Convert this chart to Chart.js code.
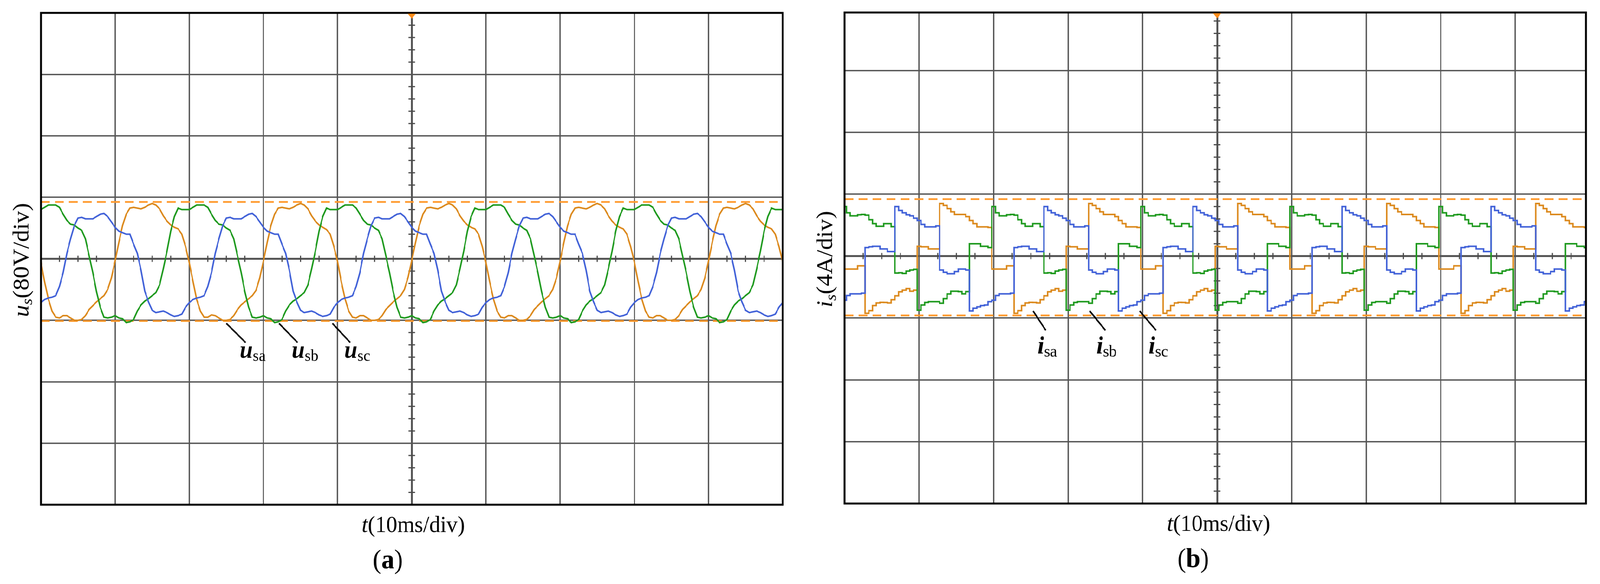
<!DOCTYPE html>
<html>
<head>
<meta charset="utf-8">
<script src="https://cdn.jsdelivr.net/npm/chart.js@4.4.1/dist/chart.umd.min.js"></script>
<style>
    html, body { margin: 0; padding: 0; background: #fff; overflow: hidden; }
    #wrap { position: relative; width: 4342px; height: 1495px; overflow: hidden; transform-origin: 0 0; }
    canvas { position: absolute; top: 0; }
    #voltCanvas { left: 0; }
    #currCanvas { left: 2200px; }
</style>
</head>
<body>
<div id="wrap">
    <canvas id="voltCanvas" width="2200" height="1495"></canvas>
    <canvas id="currCanvas" width="2142" height="1495"></canvas>
</div>
<script>
// the figure is laid out on 4342 px; squeeze it into a narrower window
const wrap = document.getElementById('wrap');
const fitX = Math.min(1, window.innerWidth / 4342);
wrap.style.transform = 'scale(' + fitX + ', 1)';

// -------------------------- data ----------------------------
// time axis, one sample every 0.5 ms over 10 div x 10 ms
const timeMs = Array.from({ length: 201 }, (_, k) => k * 0.5);

// stator voltages (V), 80 V/div
const usa = [
    -4, -30, -52, -68, -76, -77, -74, -74, -77, -80, -80, -79, -74, -66, -61, -56, -52, -48, -40, -25,
    -3, 21, 43, 58, 66, 67, 66, 65, 67, 70, 72, 70, 65, 56, 49, 44, 41, 39, 32, 16,
    -5, -29, -53, -68, -76, -76, -73, -74, -77, -80, -80, -79, -74, -66, -60, -56, -52, -48, -41, -25,
    -3, 21, 43, 58, 66, 67, 66, 65, 67, 70, 72, 70, 65, 56, 49, 44, 41, 38, 32, 16,
    -4, -30, -52, -68, -76, -77, -74, -74, -77, -80, -80, -79, -74, -66, -61, -56, -52, -48, -40, -24,
    -2, 21, 43, 58, 66, 67, 66, 65, 67, 70, 72, 70, 65, 56, 49, 44, 41, 39, 32, 16,
    -5, -30, -52, -68, -76, -77, -74, -74, -77, -80, -80, -79, -74, -66, -61, -56, -52, -48, -40, -25,
    -3, 21, 43, 58, 66, 67, 66, 65, 67, 70, 72, 70, 65, 56, 49, 44, 41, 39, 32, 16,
    -4, -29, -52, -68, -76, -77, -74, -74, -77, -80, -80, -79, -74, -66, -61, -56, -52, -48, -40, -25,
    -3, 21, 43, 58, 66, 67, 66, 65, 67, 70, 72, 70, 65, 56, 49, 44, 41, 39, 32, 16,
    -4
];
const usb = [
    64, 67, 70, 70, 70, 67, 58, 50, 45, 44, 40, 37, 26, 4, -18, -43, -63, -76, -77, -76,
    -74, -77, -78, -83, -82, -79, -68, -60, -55, -52, -48, -44, -34, -13, 10, 36, 55, 66, 64, 64,
    64, 67, 70, 70, 70, 67, 58, 50, 45, 44, 40, 37, 26, 4, -18, -43, -63, -76, -77, -76,
    -74, -77, -78, -83, -82, -79, -68, -60, -55, -52, -48, -44, -34, -13, 10, 36, 55, 66, 64, 64,
    64, 67, 70, 70, 70, 66, 58, 50, 45, 44, 40, 37, 26, 4, -18, -43, -63, -76, -77, -76,
    -74, -77, -78, -83, -82, -79, -68, -60, -55, -52, -48, -44, -34, -13, 10, 36, 55, 66, 64, 64,
    64, 67, 70, 70, 70, 67, 58, 50, 45, 44, 40, 37, 26, 4, -18, -43, -63, -76, -77, -76,
    -74, -77, -78, -83, -82, -79, -68, -60, -55, -52, -48, -44, -34, -13, 10, 36, 55, 66, 64, 64,
    64, 67, 70, 70, 70, 67, 58, 50, 45, 44, 40, 37, 26, 4, -18, -43, -63, -76, -77, -76,
    -74, -77, -78, -83, -82, -79, -68, -60, -55, -52, -48, -44, -34, -13, 10, 36, 55, 66, 64, 64,
    64
];
const usc = [
    -57, -53, -51, -50, -48, -36, -18, 7, 26, 43, 53, 54, 52, 52, 52, 55, 58, 59, 55, 48,
    41, 36, 34, 32, 32, 19, 7, -15, -42, -56, -67, -70, -69, -68, -70, -73, -75, -74, -72, -63,
    -57, -53, -51, -50, -48, -36, -18, 7, 26, 43, 53, 54, 52, 52, 52, 55, 58, 59, 55, 48,
    41, 36, 34, 32, 32, 19, 7, -15, -42, -56, -67, -70, -69, -68, -70, -73, -75, -74, -72, -63,
    -57, -53, -51, -50, -48, -36, -18, 7, 26, 43, 53, 54, 52, 52, 52, 55, 58, 59, 55, 48,
    41, 36, 34, 32, 32, 19, 7, -15, -42, -56, -67, -70, -69, -68, -70, -73, -75, -74, -72, -63,
    -57, -53, -51, -50, -48, -36, -18, 7, 26, 43, 53, 54, 52, 52, 52, 55, 58, 59, 55, 48,
    41, 36, 34, 32, 32, 19, 7, -15, -42, -56, -67, -70, -69, -68, -70, -73, -75, -74, -72, -63,
    -57, -53, -51, -50, -48, -36, -18, 7, 26, 43, 53, 54, 52, 52, 52, 55, 58, 59, 55, 48,
    41, 36, 34, 32, 32, 19, 7, -15, -42, -56, -67, -70, -69, -68, -70, -73, -75, -74, -72, -63,
    -57
];

// stator currents (A), 4 A/div
const isa = [
    -0.84, -0.84, -0.84, -0.84, -0.63, -0.63, -3.7, -3.53, -3.2, -3.03, -2.99, -3.0, -3.03, -2.82, -2.57, -2.31, -2.2, -2.1, -2.27, -2.2,
    0.63, 0.6, 0.6, 0.46, 0.46, 0.46, 3.4, 3.28, 3.07, 2.86, 2.69, 2.69, 2.69, 2.55, 2.3, 2.1, 1.89, 1.89, 1.89, 1.85,
    -0.84, -0.84, -0.84, -0.84, -0.63, -0.63, -3.7, -3.53, -3.2, -3.03, -2.99, -3.0, -3.03, -2.82, -2.57, -2.31, -2.2, -2.1, -2.27, -2.2,
    0.63, 0.6, 0.6, 0.46, 0.46, 0.46, 3.4, 3.28, 3.07, 2.86, 2.69, 2.69, 2.69, 2.55, 2.3, 2.1, 1.89, 1.89, 1.89, 1.85,
    -0.84, -0.84, -0.84, -0.84, -0.63, -0.63, -3.7, -3.53, -3.2, -3.03, -2.99, -3.0, -3.03, -2.82, -2.57, -2.31, -2.2, -2.1, -2.27, -2.2,
    0.63, 0.6, 0.6, 0.46, 0.46, 0.46, 3.4, 3.28, 3.07, 2.86, 2.69, 2.69, 2.69, 2.55, 2.3, 2.1, 1.89, 1.89, 1.89, 1.85,
    -0.84, -0.84, -0.84, -0.84, -0.63, -0.63, -3.7, -3.53, -3.2, -3.03, -2.99, -3.0, -3.03, -2.82, -2.57, -2.31, -2.2, -2.1, -2.27, -2.2,
    0.63, 0.6, 0.6, 0.46, 0.46, 0.46, 3.4, 3.28, 3.07, 2.86, 2.69, 2.69, 2.69, 2.55, 2.3, 2.1, 1.89, 1.89, 1.89, 1.85,
    -0.84, -0.84, -0.84, -0.84, -0.63, -0.63, -3.7, -3.53, -3.2, -3.03, -2.99, -3.0, -3.03, -2.82, -2.57, -2.31, -2.2, -2.1, -2.27, -2.2,
    0.63, 0.6, 0.6, 0.46, 0.46, 0.46, 3.4, 3.28, 3.07, 2.86, 2.69, 2.69, 2.69, 2.55, 2.3, 2.1, 1.89, 1.89, 1.89, 1.85,
    -0.84
];
const isb = [
    3.2, 2.8, 2.6, 2.6, 2.67, 2.69, 2.65, 2.35, 2.1, 1.93, 1.93, 2.1, 2.1, 1.9, -1.1, -1.08, -1.12, -0.97, -0.9, -0.86,
    -3.5, -3.16, -3.0, -2.95, -2.95, -2.95, -3.05, -2.75, -2.45, -2.27, -2.27, -2.3, -2.44, -2.3, 0.8, 0.8, 0.8, 0.63, 0.63, 0.55,
    3.2, 2.8, 2.6, 2.6, 2.67, 2.69, 2.65, 2.35, 2.1, 1.93, 1.93, 2.1, 2.1, 1.9, -1.1, -1.08, -1.12, -0.97, -0.9, -0.86,
    -3.5, -3.16, -3.0, -2.95, -2.95, -2.95, -3.05, -2.75, -2.45, -2.27, -2.27, -2.3, -2.44, -2.3, 0.8, 0.8, 0.8, 0.63, 0.63, 0.55,
    3.2, 2.8, 2.6, 2.6, 2.67, 2.69, 2.65, 2.35, 2.1, 1.93, 1.93, 2.1, 2.1, 1.9, -1.1, -1.08, -1.12, -0.97, -0.9, -0.86,
    -3.5, -3.16, -3.0, -2.95, -2.95, -2.95, -3.05, -2.75, -2.45, -2.27, -2.27, -2.3, -2.44, -2.3, 0.8, 0.8, 0.8, 0.63, 0.63, 0.55,
    3.2, 2.8, 2.6, 2.6, 2.67, 2.69, 2.65, 2.35, 2.1, 1.93, 1.93, 2.1, 2.1, 1.9, -1.1, -1.08, -1.12, -0.97, -0.9, -0.86,
    -3.5, -3.16, -3.0, -2.95, -2.95, -2.95, -3.05, -2.75, -2.45, -2.27, -2.27, -2.3, -2.44, -2.3, 0.8, 0.8, 0.8, 0.63, 0.63, 0.55,
    3.2, 2.8, 2.6, 2.6, 2.67, 2.69, 2.65, 2.35, 2.1, 1.93, 1.93, 2.1, 2.1, 1.9, -1.1, -1.08, -1.12, -0.97, -0.9, -0.86,
    -3.5, -3.16, -3.0, -2.95, -2.95, -2.95, -3.05, -2.75, -2.45, -2.27, -2.27, -2.3, -2.44, -2.3, 0.8, 0.8, 0.8, 0.63, 0.63, 0.55,
    3.2
];
const isc = [
    -2.85, -2.55, -2.44, -2.44, -2.44, -2.4, 0.55, 0.6, 0.63, 0.63, 0.46, 0.46, 0.29, 0.29, 3.2, 2.95, 2.8, 2.67, 2.6, 2.45,
    2.3, 2.05, 1.89, 1.89, 1.89, 1.95, -0.9, -1.05, -1.14, -1.14, -1.0, -0.84, -0.84, -0.9, -3.55, -3.37, -3.28, -3.2, -3.16, -2.95,
    -2.85, -2.55, -2.44, -2.44, -2.44, -2.4, 0.55, 0.6, 0.63, 0.63, 0.46, 0.46, 0.29, 0.29, 3.2, 2.95, 2.8, 2.67, 2.6, 2.45,
    2.3, 2.05, 1.89, 1.89, 1.89, 1.95, -0.9, -1.05, -1.14, -1.14, -1.0, -0.84, -0.84, -0.9, -3.55, -3.37, -3.28, -3.2, -3.16, -2.95,
    -2.85, -2.55, -2.44, -2.44, -2.44, -2.4, 0.55, 0.6, 0.63, 0.63, 0.46, 0.46, 0.29, 0.29, 3.2, 2.95, 2.8, 2.67, 2.6, 2.45,
    2.3, 2.05, 1.89, 1.89, 1.89, 1.95, -0.9, -1.05, -1.14, -1.14, -1.0, -0.84, -0.84, -0.9, -3.55, -3.37, -3.28, -3.2, -3.16, -2.95,
    -2.85, -2.55, -2.44, -2.44, -2.44, -2.4, 0.55, 0.6, 0.63, 0.63, 0.46, 0.46, 0.29, 0.29, 3.2, 2.95, 2.8, 2.67, 2.6, 2.45,
    2.3, 2.05, 1.89, 1.89, 1.89, 1.95, -0.9, -1.05, -1.14, -1.14, -1.0, -0.84, -0.84, -0.9, -3.55, -3.37, -3.28, -3.2, -3.16, -2.95,
    -2.85, -2.55, -2.44, -2.44, -2.44, -2.4, 0.55, 0.6, 0.63, 0.63, 0.46, 0.46, 0.29, 0.29, 3.2, 2.95, 2.8, 2.67, 2.6, 2.45,
    2.3, 2.05, 1.89, 1.89, 1.89, 1.95, -0.9, -1.05, -1.14, -1.14, -1.0, -0.84, -0.84, -0.9, -3.55, -3.37, -3.28, -3.2, -3.16, -2.95,
    -2.85
];

// orange cursor levels of the scope
const uCursors = [74, -81];
const iCursors = [3.68, -3.84];

// -------------------------- style ----------------------------
const SERIF = '"Liberation Serif", "Times New Roman", serif';
const phaseColors = ['#dc8a1e', '#1f9a1f', '#4262d8'];
const cursorColor = '#ff9a2e';
const gridColor = '#555555';

function toPoints(values) {
    return values.map((v, k) => ({ x: timeMs[k], y: v }));
}

function drawRich(ctx, parts, x, y, align) {
    let w = 0;
    parts.forEach(p => { ctx.font = p.font; w += ctx.measureText(p.text).width; });
    let cx = align === 'center' ? x - w / 2 : x;
    parts.forEach(p => {
        ctx.font = p.font;
        ctx.fillText(p.text, cx, y + (p.dy || 0));
        cx += ctx.measureText(p.text).width;
    });
}

// -------------------------- scope decorations ----------------------------
const scopePlugin = {
    id: 'scope',
    beforeDatasetsDraw(chart, args, o) {
        const { ctx, scales: { x, y } } = chart;
        const xc = x.getPixelForValue(50);
        const yc = y.getPixelForValue(0);
        ctx.save();
        ctx.strokeStyle = '#4a4a4a';
        ctx.lineWidth = 3;
        ctx.beginPath();
        // small marks on the centre lines
        for (let k = 1; k * 2.5 < x.max; k++) {
            if (k % 4 === 0) continue;
            const px = x.getPixelForValue(k * 2.5);
            ctx.moveTo(px, yc - 8);
            ctx.lineTo(px, yc + 8);
        }
        const kMin = Math.ceil(y.min / o.minorY);
        const kMax = Math.floor(y.max / o.minorY);
        for (let k = kMin; k <= kMax; k++) {
            if (k % 5 === 0) continue;
            const py = y.getPixelForValue(k * o.minorY);
            ctx.moveTo(xc - 9, py);
            ctx.lineTo(xc + 9, py);
        }
        ctx.stroke();
        ctx.restore();
    },
    afterDraw(chart, args, o) {
        const { ctx, chartArea: a, scales: { x, y } } = chart;
        const xc = x.getPixelForValue(50);
        ctx.save();

        // frame
        ctx.strokeStyle = '#000';
        ctx.lineWidth = 5;
        ctx.strokeRect(a.left, a.top, a.right - a.left, a.bottom - a.top);

        // trigger marker
        ctx.fillStyle = '#ff8c1a';
        ctx.beginPath();
        ctx.moveTo(xc - 11, a.top + 2);
        ctx.lineTo(xc + 11, a.top + 2);
        ctx.lineTo(xc, a.top + 15);
        ctx.closePath();
        ctx.fill();

        // curve labels with leader lines
        ctx.fillStyle = '#000';
        ctx.strokeStyle = '#000';
        ctx.lineWidth = 4;
        ctx.textAlign = 'left';
        ctx.textBaseline = 'alphabetic';
        o.curveLabels.forEach(l => {
            ctx.beginPath();
            ctx.moveTo(x.getPixelForValue(l.from[0]), y.getPixelForValue(l.from[1]));
            ctx.lineTo(x.getPixelForValue(l.to[0]), y.getPixelForValue(l.to[1]));
            ctx.stroke();
            drawRich(ctx, [
                { text: o.symbol, font: 'italic bold 64px ' + SERIF },
                { text: l.sub, font: '42px ' + SERIF, dy: 8 }
            ], x.getPixelForValue(l.at[0]), y.getPixelForValue(l.at[1]), 'left');
        });

        // y label, rotated
        ctx.save();
        ctx.translate(a.left - 34, (a.top + a.bottom) / 2 + 3);
        ctx.rotate(-Math.PI / 2);
        drawRich(ctx, [
            { text: o.symbol, font: 'italic 62px ' + SERIF },
            { text: 's', font: 'italic 42px ' + SERIF, dy: 10 },
            { text: o.unitText, font: '62px ' + SERIF }
        ], 0, 0, 'center');
        ctx.restore();

        // x label and panel tag
        drawRich(ctx, [
            { text: 't', font: 'italic 60px ' + SERIF },
            { text: '(10ms/div)', font: '60px ' + SERIF }
        ], xc + 4, a.bottom + 70, 'center');
        drawRich(ctx, [
            { text: '(', font: '70px ' + SERIF },
            { text: o.tag, font: 'bold 70px ' + SERIF },
            { text: ')', font: '70px ' + SERIF }
        ], xc - 65, a.bottom + 163, 'center');

        ctx.restore();
    }
};

function scopeChart(canvasId, cfg) {
    const waves = cfg.series.map((values, i) => ({
        data: toPoints(values),
        borderColor: phaseColors[i],
        borderWidth: 4,
        pointRadius: 0,
        tension: 0,
        stepped: cfg.stepped,
        borderJoinStyle: 'miter',
        order: 3 - i
    }));
    const cursors = cfg.cursors.map(level => ({
        data: [{ x: 0, y: level }, { x: 100, y: level }],
        borderColor: cursorColor,
        borderWidth: 4.5,
        borderDash: [24, 14],
        pointRadius: 0,
        order: 10
    }));

    return new Chart(document.getElementById(canvasId), {
        type: 'line',
        data: { datasets: cursors.concat(waves) },
        options: {
            responsive: false,
            devicePixelRatio: 1,
            animation: false,
            events: [],
            layout: { padding: cfg.padding },
            plugins: {
                legend: { display: false },
                tooltip: { enabled: false },
                scope: cfg.scope
            },
            scales: {
                x: {
                    type: 'linear',
                    min: 0,
                    max: cfg.xMax,
                    ticks: { display: false, stepSize: 10 },
                    grid: {
                        color: gridColor,
                        lineWidth: c => (c.tick && c.tick.value === 50 ? 5 : 3.5),
                        drawTicks: false
                    },
                    border: { display: false }
                },
                y: {
                    type: 'linear',
                    min: cfg.yMin,
                    max: cfg.yMax,
                    ticks: { display: false, stepSize: cfg.yStep },
                    grid: {
                        color: gridColor,
                        lineWidth: c => (c.tick && c.tick.value === 0 ? 5 : 3.5),
                        drawTicks: false
                    },
                    border: { display: false }
                }
            }
        },
        plugins: [scopePlugin]
    });
}

// -------------------------- (a) voltages ----------------------------
scopeChart('voltCanvas', {
    series: [usa, usb, usc],
    cursors: uCursors,
    stepped: false,
    xMax: 100,
    yMin: -320, yMax: 320, yStep: 80,
    padding: { left: 111, right: 76, top: 33, bottom: 203 },
    scope: {
        minorY: 16,
        symbol: 'u',
        unitText: '(80V/div)',
        tag: 'a',
        curveLabels: [
            { sub: 'sa', from: [25.0, -84], to: [27.6, -109], at: [26.8, -129] },
            { sub: 'sb', from: [32.1, -84], to: [34.6, -109], at: [33.8, -129] },
            { sub: 'sc', from: [39.3, -84], to: [41.7, -109], at: [40.9, -129] }
        ]
    }
});

// -------------------------- (b) currents ----------------------------
scopeChart('currCanvas', {
    series: [isa, isb, isc],
    cursors: iCursors,
    stepped: 'middle',
    xMax: 99.5,
    yMin: -16, yMax: 15.75, yStep: 4,
    padding: { left: 92, right: 38, top: 32, bottom: 206 },
    scope: {
        minorY: 0.8,
        symbol: 'i',
        unitText: '(4A/div)',
        tag: 'b',
        curveLabels: [
            { sub: 'sa', from: [25.3, -3.55], to: [27.0, -4.8], at: [25.9, -6.3] },
            { sub: 'sb', from: [32.9, -3.55], to: [35.0, -4.8], at: [33.8, -6.3] },
            { sub: 'sc', from: [39.6, -3.55], to: [41.8, -4.8], at: [40.8, -6.3] }
        ]
    }
});
</script>
</body>
</html>
